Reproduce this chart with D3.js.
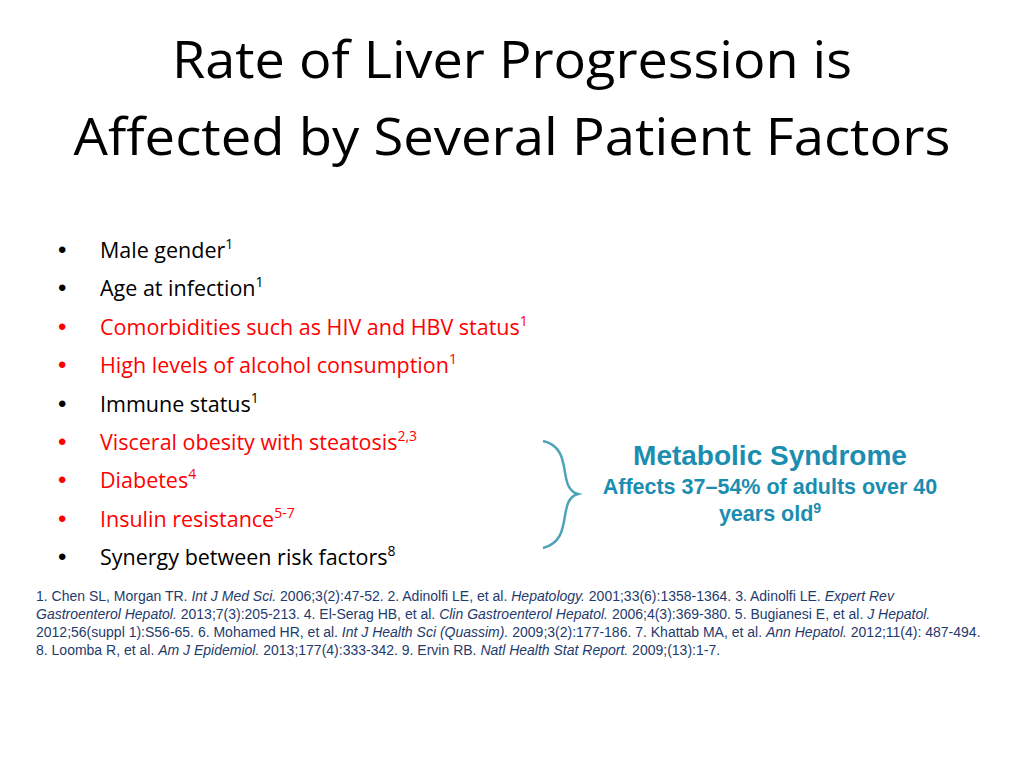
<!DOCTYPE html>
<html><head><meta charset="utf-8">
<script src="https://cdn.jsdelivr.net/npm/d3@7"></script>
<style>body{margin:0;background:#fff}</style>
</head><body>
<svg id="slide" width="1024" height="768"></svg>
<script>
var titleLines = ["Rate of Liver Progression is", "Affected by Several Patient Factors"];
var titleWidths = [680, 877];
var bullets = ["Male gender", "Age at infection", "Comorbidities such as HIV and HBV status",
  "High levels of alcohol consumption", "Immune status", "Visceral obesity with steatosis",
  "Diabetes", "Insulin resistance", "Synergy between risk factors"];
var bulletSups = ["1", "1", "1", "1", "1", "2,3", "4", "5-7", "8"];
var bulletRed = [false, false, true, true, false, true, true, true, false];
var calloutLines = ["Metabolic Syndrome", "Affects 37\u201354% of adults over 40", "years old"];
// each reference line: [text, italic?] pieces
var refLines = [
  [["1. Chen SL, Morgan TR. ", 0], ["Int J Med Sci.", 1], [" 2006;3(2):47-52. 2. Adinolfi LE, et al. ", 0], ["Hepatology.", 1], [" 2001;33(6):1358-1364. 3. Adinolfi LE. ", 0], ["Expert Rev", 1]],
  [["Gastroenterol Hepatol.", 1], [" 2013;7(3):205-213. 4. El-Serag HB, et al. ", 0], ["Clin Gastroenterol Hepatol.", 1], [" 2006;4(3):369-380. 5. Bugianesi E, et al. ", 0], ["J Hepatol.", 1]],
  [["2012;56(suppl 1):S56-65. 6. Mohamed HR, et al. ", 0], ["Int J Health Sci (Quassim).", 1], [" 2009;3(2):177-186. 7. Khattab MA, et al. ", 0], ["Ann Hepatol.", 1], [" 2012;11(4): 487-494.", 0]],
  [["8. Loomba R, et al. ", 0], ["Am J Epidemiol.", 1], [" 2013;177(4):333-342. 9. Ervin RB. ", 0], ["Natl Health Stat Report.", 1], [" 2009;(13):1-7.", 0]]
];

var svg = d3.select("#slide");
var body = "'Open Sans', Lato, sans-serif";

svg.selectAll("text.title").data(titleLines).enter().append("text")
  .attr("class", "title").attr("x", 512).attr("y", function(d, i) { return 78 + i * 77; })
  .attr("text-anchor", "middle").attr("font-family", body).attr("font-size", 52)
  .attr("textLength", function(d, i) { return titleWidths[i]; })
  .attr("lengthAdjust", "spacingAndGlyphs")
  .attr("fill", "#000").text(function(d) { return d; });

var by = d3.scaleLinear().domain([0, bullets.length - 1]).range([258, 565]);
var g = svg.selectAll("g.bullet").data(bullets).enter().append("g").attr("class", "bullet");
g.append("text").attr("x", 58).attr("y", function(d, i) { return by(i); })
  .attr("font-family", "Arial, sans-serif").attr("font-size", 24)
  .attr("fill", function(d, i) { return bulletRed[i] ? "#ff0000" : "#000"; }).text("\u2022");
var bt = g.append("text").attr("x", 100).attr("y", function(d, i) { return by(i); })
  .attr("font-family", body).attr("font-size", 21.5)
  .attr("fill", function(d, i) { return bulletRed[i] ? "#ff0000" : "#000"; });
bt.append("tspan").text(function(d) { return d; });
bt.append("tspan").attr("dy", -9).attr("font-size", 14).text(function(d, i) { return bulletSups[i]; });

svg.append("path")
  .attr("d", "M543,441 C575,448 556,488 578,494 C556,500 575,540 543,548")
  .attr("fill", "none").attr("stroke", "#4ea3ba").attr("stroke-width", 2.5);

var teal = "#1a8db0";
var sans = "'Liberation Sans', Arial, sans-serif";
svg.append("text").attr("x", 770).attr("y", 465).attr("text-anchor", "middle")
  .attr("font-family", sans).attr("font-weight", "bold")
  .attr("font-size", 28).attr("fill", teal).text(calloutLines[0]);
svg.append("text").attr("x", 770).attr("y", 494).attr("text-anchor", "middle")
  .attr("font-family", sans).attr("font-weight", "bold")
  .attr("font-size", 21.5).attr("fill", teal).text(calloutLines[1]);
var l3 = svg.append("text").attr("x", 770).attr("y", 521).attr("text-anchor", "middle")
  .attr("font-family", sans).attr("font-weight", "bold")
  .attr("font-size", 21.5).attr("fill", teal);
l3.append("tspan").text(calloutLines[2]);
l3.append("tspan").attr("dy", -8).attr("font-size", 14).text("9");

var rt = svg.selectAll("text.ref").data(refLines).enter().append("text").attr("class", "ref")
  .attr("x", 36).attr("y", function(d, i) { return 601 + i * 18; })
  .attr("font-family", sans).attr("font-size", 14)
  .attr("fill", "#1f3b6e");
rt.selectAll("tspan").data(function(d) { return d; }).enter().append("tspan")
  .attr("font-style", function(d) { return d[1] ? "italic" : "normal"; })
  .text(function(d) { return d[0]; });
</script>
</body></html>
